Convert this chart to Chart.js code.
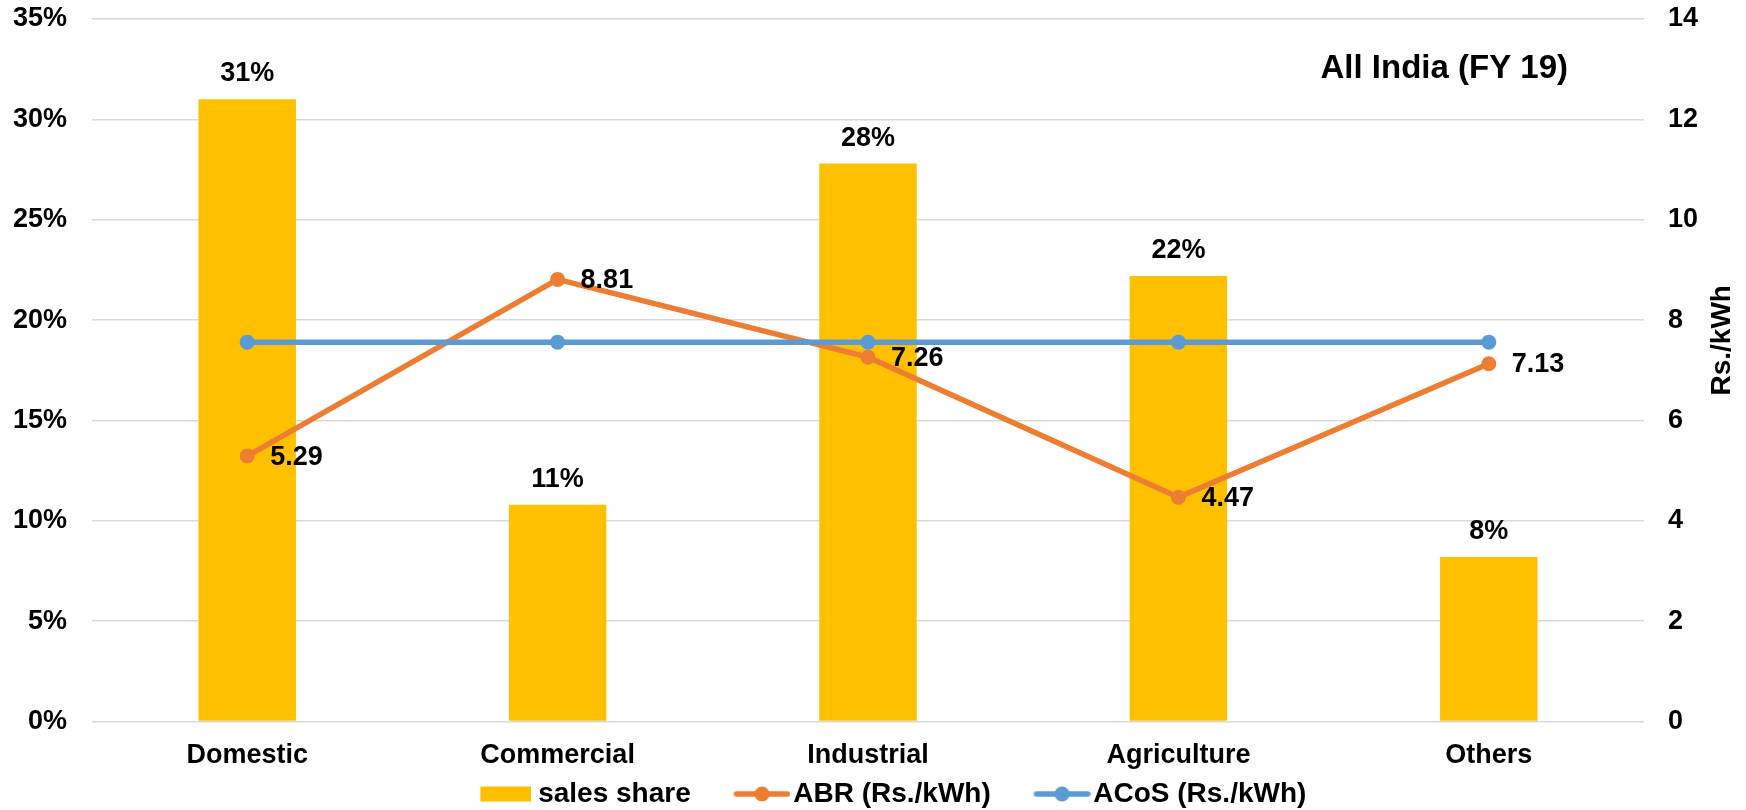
<!DOCTYPE html>
<html>
<head>
<meta charset="utf-8">
<script src="https://cdn.jsdelivr.net/npm/chart.js@4.4.1/dist/chart.umd.min.js"></script>
<style>
  html, body { margin: 0; padding: 0; background: #fff; overflow: hidden; }
  #c { display: block; }
</style>
</head>
<body>
<canvas id="c" width="1746" height="810"></canvas>
<script>
// Consumer categories and FY19 figures
const categories = ['Domestic', 'Commercial', 'Industrial', 'Agriculture', 'Others'];
const salesShare = [0.310, 0.108, 0.278, 0.222, 0.082];   // share of energy sales
const abr = [5.29, 8.81, 7.26, 4.47, 7.13];               // average billing rate, Rs./kWh
const acos = [7.56, 7.56, 7.56, 7.56, 7.56];              // average cost of supply, Rs./kWh
const seriesNames = ['sales share', 'ABR (Rs./kWh)', 'ACoS (Rs./kWh)'];
const chartTitle = 'All India (FY 19)';
const rightAxisTitle = 'Rs./kWh';

const FONT = "'Liberation Sans', Arial, Helvetica, sans-serif";
const COLORS = { bar: '#FFC000', abr: '#ED7D31', acos: '#5B9BD5', grid: '#D9D9D9' };

Chart.defaults.font.family = FONT;
Chart.defaults.font.weight = 'bold';
Chart.defaults.font.size = 27;
Chart.defaults.color = '#000';

// Legend swatches: a filled block for the bars, a line with a dot for the lines
const LEGEND_FS = 28, LEGEND_BOX = 84.5;
function swatch(kind, color, visW, gap) {
  const W = Math.round(2 * (LEGEND_BOX / 2 + LEGEND_FS / 2 - gap));
  const H = 20;
  const cv = document.createElement('canvas');
  cv.width = W; cv.height = H;
  const g = cv.getContext('2d');
  const x0 = W - visW;
  g.fillStyle = color;
  if (kind === 'bar') {
    g.fillRect(x0, (H - 15) / 2, visW, 15);
  } else {
    g.strokeStyle = color;
    g.lineWidth = 5.5;
    g.lineCap = 'round';
    g.beginPath();
    g.moveTo(x0 + 3, H / 2);
    g.lineTo(W - 3, H / 2);
    g.stroke();
    g.beginPath();
    g.arc(x0 + visW / 2, H / 2, 7.5, 0, Math.PI * 2);
    g.fill();
  }
  return cv;
}
const swatches = [
  swatch('bar', COLORS.bar, 51, 7),
  swatch('line', COLORS.abr, 57, 3),
  swatch('line', COLORS.acos, 57, 3)
];

// Value labels, chart heading and the right-hand axis caption
const annotations = {
  id: 'annotations',
  afterDatasetsDraw(chart) {
    const ctx = chart.ctx;
    const area = chart.chartArea;
    ctx.save();
    ctx.fillStyle = '#000';
    ctx.font = 'bold 27px ' + FONT;

    ctx.textAlign = 'center';
    ctx.textBaseline = 'alphabetic';
    chart.getDatasetMeta(0).data.forEach((el, i) => {
      ctx.fillText(Math.round(salesShare[i] * 100) + '%', el.x, el.y - 18);
    });

    ctx.textAlign = 'left';
    ctx.textBaseline = 'middle';
    chart.getDatasetMeta(1).data.forEach((el, i) => {
      ctx.fillText(abr[i].toFixed(2), el.x + 23, el.y + 1);
    });

    ctx.font = 'bold 33px ' + FONT;
    ctx.textAlign = 'right';
    ctx.textBaseline = 'alphabetic';
    ctx.fillText(chartTitle, area.right - 76, area.top + 59);

    const y1 = chart.scales.y1;
    ctx.font = 'bold 28px ' + FONT;
    ctx.translate(y1.left + 78, (area.top + area.bottom) / 2 - 30);
    ctx.rotate(-Math.PI / 2);
    ctx.textAlign = 'center';
    ctx.textBaseline = 'middle';
    ctx.fillText(rightAxisTitle, 0, 0);
    ctx.restore();
  }
};

// Fixed axis gutters so the plot area sits where it should
function fixVertical(width) {
  return scale => {
    scale.width = width;
    scale.paddingTop = 0;
    scale.paddingBottom = 0;
  };
}

new Chart(document.getElementById('c'), {
  data: {
    labels: categories,
    datasets: [
      {
        type: 'bar',
        label: seriesNames[0],
        data: salesShare,
        backgroundColor: COLORS.bar,
        borderWidth: 0,
        barPercentage: 1,
        categoryPercentage: 0.314,
        yAxisID: 'y',
        order: 3
      },
      {
        type: 'line',
        label: seriesNames[1],
        data: abr,
        borderColor: COLORS.abr,
        backgroundColor: COLORS.abr,
        borderWidth: 5.5,
        pointRadius: 7.5,
        pointHoverRadius: 7.5,
        pointBorderWidth: 0,
        tension: 0,
        yAxisID: 'y1',
        order: 2
      },
      {
        type: 'line',
        label: seriesNames[2],
        data: acos,
        borderColor: COLORS.acos,
        backgroundColor: COLORS.acos,
        borderWidth: 5.5,
        pointRadius: 7.5,
        pointHoverRadius: 7.5,
        pointBorderWidth: 0,
        tension: 0,
        yAxisID: 'y1',
        order: 1
      }
    ]
  },
  options: {
    responsive: false,
    animation: false,
    layout: { padding: { top: 19, bottom: -8, left: 0, right: 0 } },
    plugins: {
      tooltip: { enabled: false },
      title: { display: false },
      legend: {
        position: 'bottom',
        labels: {
          usePointStyle: true,
          pointStyleWidth: LEGEND_BOX,
          padding: 4,
          color: '#000',
          font: { size: LEGEND_FS, weight: 'bold', family: FONT },
          generateLabels(chart) {
            const items = Chart.defaults.plugins.legend.labels.generateLabels(chart);
            items.sort((a, b) => a.datasetIndex - b.datasetIndex);
            items.forEach(it => { it.pointStyle = swatches[it.datasetIndex]; });
            return items;
          }
        }
      }
    },
    scales: {
      x: {
        grid: { display: false },
        border: { display: false },
        ticks: { padding: 10, maxRotation: 0, font: { size: 27 } },
        afterFit(scale) { scale.height = 54.5; }
      },
      y: {
        position: 'left',
        min: 0,
        max: 0.35,
        grid: { color: COLORS.grid, lineWidth: 1.5, drawTicks: false },
        border: { display: false },
        ticks: {
          stepSize: 0.05,
          padding: 25,
          callback: v => Math.round(v * 100) + '%'
        },
        afterFit: fixVertical(92)
      },
      y1: {
        position: 'right',
        min: 0,
        max: 14,
        grid: { drawOnChartArea: false, drawTicks: false },
        border: { display: false },
        ticks: { stepSize: 2, padding: 24 },
        afterFit: fixVertical(102)
      }
    }
  },
  plugins: [annotations]
});
</script>
</body>
</html>
